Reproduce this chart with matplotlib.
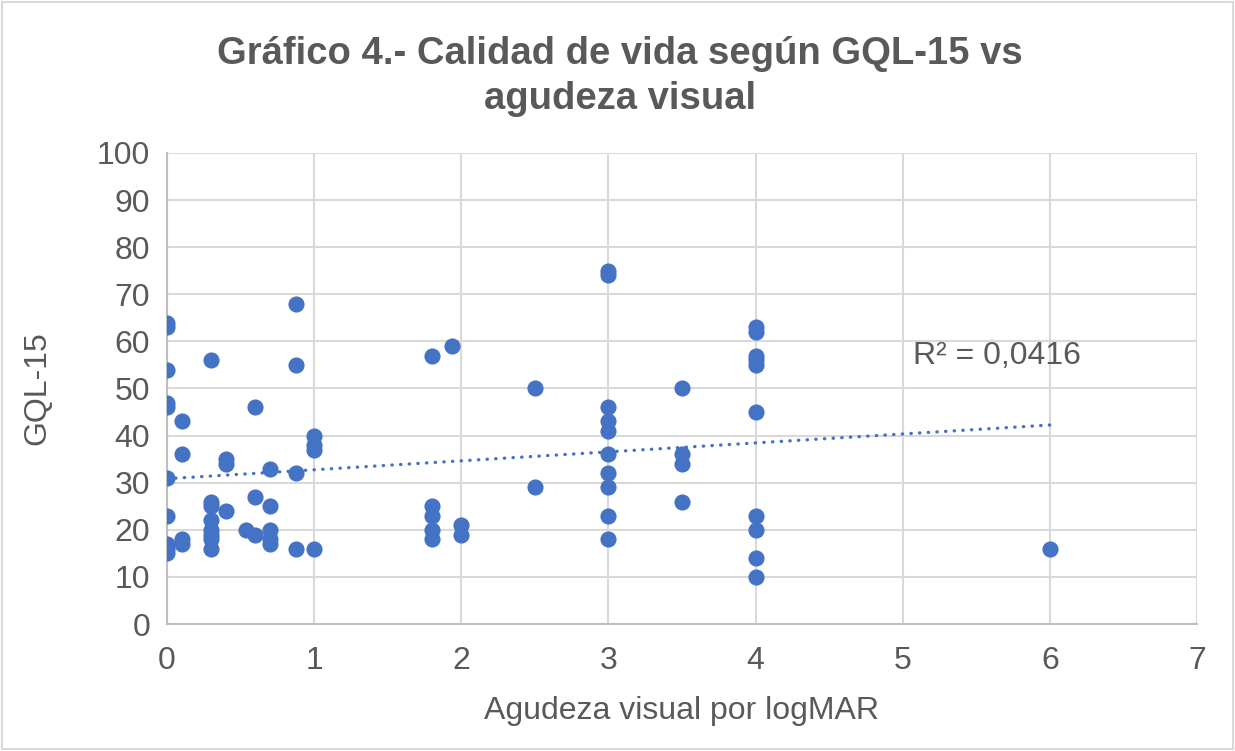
import numpy as np
import matplotlib.pyplot as plt

# datos (agudeza visual logMAR vs GQL-15)
av_0 = [0, 0, 0, 0, 0, 0, 0, 0, 0, 0]
gql_0 = [64, 63, 54, 47, 46, 31, 23, 17, 16, 15]
av_01 = [0.1, 0.1, 0.1, 0.1]
gql_01 = [43, 36, 18, 17]
av_03 = [0.3] * 8
gql_03 = [56, 26, 25, 22, 20, 19, 18, 16]
av_04 = [0.4, 0.4, 0.4]
gql_04 = [35, 34, 24]
av_05 = [0.54, 0.6, 0.6, 0.6]
gql_05 = [20, 46, 27, 19]
av_07 = [0.7] * 5
gql_07 = [33, 25, 20, 18, 17]
av_09 = [0.88, 0.88, 0.88, 0.88]
gql_09 = [68, 55, 32, 16]
av_1 = [1, 1, 1, 1]
gql_1 = [40, 38, 37, 16]
av_2 = [1.8, 1.8, 1.8, 1.8, 1.8, 1.94, 2, 2]
gql_2 = [57, 25, 23, 20, 18, 59, 21, 19]
av_25 = [2.5, 2.5]
gql_25 = [50, 29]
av_3 = [3] * 10
gql_3 = [75, 74, 46, 43, 41, 36, 32, 29, 23, 18]
av_35 = [3.5] * 4
gql_35 = [50, 36, 34, 26]
av_4 = [4] * 10
gql_4 = [63, 62, 57, 56, 55, 45, 23, 20, 14, 10]
av_6 = [6]
gql_6 = [16]

x = np.array(av_0 + av_01 + av_03 + av_04 + av_05 + av_07 + av_09 + av_1
             + av_2 + av_25 + av_3 + av_35 + av_4 + av_6)
y = np.array(gql_0 + gql_01 + gql_03 + gql_04 + gql_05 + gql_07 + gql_09 + gql_1
             + gql_2 + gql_25 + gql_3 + gql_35 + gql_4 + gql_6)

azul = '#4472C4'
gris = '#595959'
plt.rcParams['font.family'] = ['Liberation Sans', 'DejaVu Sans']

fig = plt.figure(figsize=(12.35, 7.51), dpi=100)
ax = fig.add_axes([0.1352, 0.1691, 0.834, 0.6272])

ax.scatter(x, y, s=135, color=azul, zorder=3, linewidths=0)

# linea de tendencia lineal
m, b = np.polyfit(x, y, 1)
xt = np.array([0, 6])
ax.plot(xt, m * xt + b, color=azul, lw=2.4, linestyle=(0, (0.1, 2.5)),
        dash_capstyle='round', zorder=2)
ax.text(5.07, 55.3, 'R² = 0,0416', fontsize=23, color=gris)

ax.set_xlim(0, 7)
ax.set_ylim(0, 100)
ax.set_xticks(range(0, 8))
ax.set_yticks(range(0, 101, 10))
ax.grid(True, color='#D9D9D9', lw=1.5)
ax.set_axisbelow(True)
for s in ['top', 'right']:
    ax.spines[s].set_visible(False)
for s in ['left', 'bottom']:
    ax.spines[s].set_color('#BFBFBF')
    ax.spines[s].set_linewidth(1.5)
ax.tick_params(length=0, labelsize=23, labelcolor=gris)
ax.tick_params(axis='x', pad=16)
ax.tick_params(axis='y', pad=12)

ax.set_xlabel('Agudeza visual por logMAR', fontsize=23, color=gris, labelpad=14)
ax.set_ylabel('GQL-15', fontsize=23, color=gris, labelpad=32)
fig.text(0.502, 0.898, 'Gráfico 4.- Calidad de vida según GQL-15 vs\nagudeza visual',
         ha='center', va='center', fontsize=27.5, fontweight='bold', color=gris,
         linespacing=1.3)

# borde del area del grafico
fig.patches.append(plt.Rectangle((0.002, 0.002), 0.996, 0.996, transform=fig.transFigure,
                                 fill=False, edgecolor='#D9D9D9', lw=1.5))

fig.savefig('out.png', dpi=100)
